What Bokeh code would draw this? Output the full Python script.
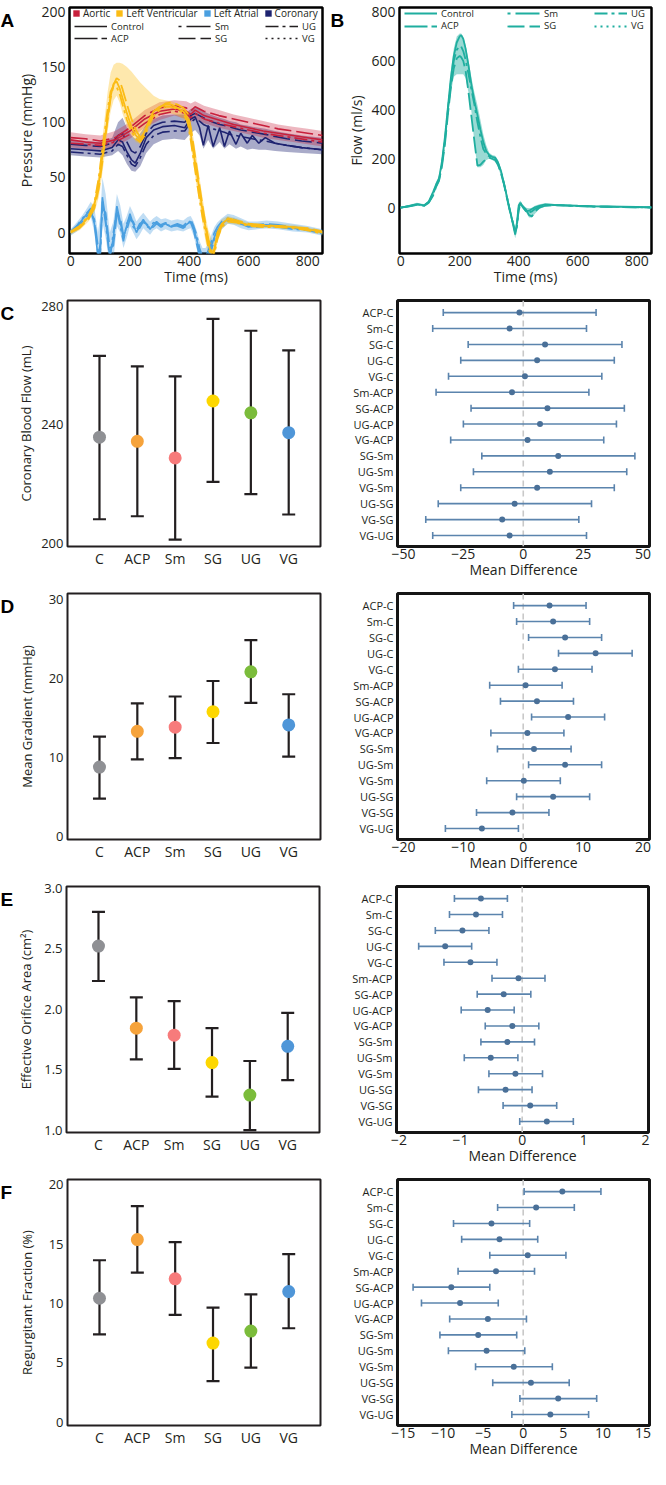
from bokeh.plotting import figure
from bokeh.layouts import column, row
from bokeh.models import (ColumnDataSource, Whisker, TeeHead, Span, Legend,
                          LegendItem, FixedTicker, Range1d, NumeralTickFormatter)
from bokeh.core.properties import value
from bokeh.embed import file_html
from bokeh.resources import INLINE

FONT = "Open Sans"
INK = "#231f20"
NAN = float("nan")

# ---------------- Panel A : pressure waveforms (mmHg) ----------------
ao_t = [0, 50, 100, 150, 200, 250, 300, 350, 390, 405, 420, 450, 500, 550, 600, 650, 700, 750, 800, 850]
ao_control = [84, 82, 81, 84, 92, 103, 110, 112, 110, 107, 111, 106, 102, 98, 95, 92, 90, 88, 86, 84]
ao_sg = [86, 85, 83, 86, 95, 106, 113, 115, 113, 110, 114, 110, 106, 103, 100, 97, 94, 92, 90, 88]
ao_ug = [81, 80, 79, 82, 89, 99, 107, 110, 108, 104, 108, 103, 99, 96, 93, 90, 88, 86, 84, 82]
ao_hi = [91, 89, 88, 92, 100, 111, 118, 120, 119, 117, 119, 115, 111, 107, 104, 101, 98, 96, 94, 92]
ao_lo = [77, 76, 75, 78, 85, 95, 102, 106, 103, 100, 103, 99, 95, 92, 89, 86, 84, 82, 80, 78]

co_t = [0, 50, 100, 140, 160, 175, 190, 205, 218, 235, 255, 280, 310, 350, 385, 405, 420, 435, 448, 464,
        481, 503, 519, 536, 558, 574, 596, 613, 635, 657, 690, 730, 780, 850]
co_control = [76, 75, 74, 77, 84, 82, 73, 66, 63, 72, 86, 93, 96, 97, 95, 103, 105, 95, 79, 97,
              78, 95, 78, 92, 80, 90, 81, 88, 81, 86, 81, 79, 77, 75]
co_sg = [80, 79, 78, 81, 88, 90, 82, 74, 72, 78, 90, 97, 100, 101, 100, 106, 108, 106, 104, 102,
         100, 98, 97, 96, 94, 93, 92, 91, 90, 89, 87, 85, 83, 81]
co_ug = [73, 72, 71, 74, 80, 78, 70, 62, 60, 68, 80, 88, 91, 92, 92, 100, 103, 101, 98, 96,
         94, 92, 91, 89, 88, 87, 86, 85, 84, 83, 81, 79, 77, 75]
co_hi = [84, 83, 82, 86, 100, 104, 95, 88, 85, 90, 98, 103, 106, 107, 107, 112, 114, 112, 110, 108,
         106, 104, 103, 101, 100, 98, 97, 96, 95, 94, 92, 90, 88, 86]
co_lo = [70, 69, 68, 70, 74, 70, 62, 56, 55, 60, 72, 80, 84, 85, 84, 90, 93, 88, 76, 84,
         76, 82, 76, 80, 76, 78, 75, 76, 75, 75, 74, 73, 72, 71]

lv_t = [0, 30, 60, 80, 95, 105, 115, 125, 135, 145, 155, 165, 175, 190, 205, 220, 235, 250, 265, 280,
        300, 320, 340, 360, 380, 395, 405, 415, 425, 435, 445, 455, 465, 480, 495, 510, 530, 560, 600, 650,
        700, 750, 800, 850]
lv_control = [0, 5, 14, 25, 45, 65, 85, 105, 124, 135, 137, 131, 122, 108, 96, 88, 84, 92, 102, 110,
              114, 116, 116, 113, 110, 104, 90, 72, 55, 38, 20, 5, -10, -24, 0, 8, 12, 10, 7, 6,
              6, 5, 3, 0]
lv_sg = [0, 4, 12, 22, 40, 60, 82, 103, 122, 134, 140, 138, 130, 116, 103, 93, 86, 90, 100, 108,
         113, 117, 118, 116, 113, 108, 96, 78, 60, 42, 24, 8, -6, -20, -4, 6, 13, 11, 8, 7,
         6, 5, 4, 1]
lv_ug = [1, 6, 15, 27, 50, 72, 92, 112, 128, 133, 132, 126, 116, 102, 92, 85, 82, 88, 98, 106,
         111, 114, 114, 112, 108, 100, 84, 66, 48, 30, 14, 0, -14, -26, -6, 5, 10, 9, 6, 5,
         5, 4, 2, -1]
lv_hi = [2, 8, 18, 30, 55, 80, 105, 128, 145, 152, 154, 154, 153, 150, 146, 141, 136, 132, 128, 124,
         121, 120, 119, 117, 114, 110, 100, 85, 68, 50, 32, 15, 2, -8, 5, 12, 15, 13, 9, 8,
         8, 7, 5, 2]
lv_lo = [-2, 2, 10, 18, 32, 50, 70, 92, 110, 120, 124, 118, 108, 96, 88, 82, 80, 85, 94, 102,
         106, 108, 108, 106, 103, 96, 80, 60, 42, 26, 8, -8, -20, -28, -10, 3, 8, 7, 5, 4,
         4, 3, 1, -2]

la_t = [0, 20, 40, 55, 68, 80, 92, 100, 107, 118, 132, 144, 156, 167, 178, 189, 200, 211, 222, 233,
        245, 256, 268, 279, 290, 305, 320, 340, 360, 380, 395, 405, 415, 425, 435, 445, 455, 465, 475, 485,
        495, 510, 530, 550, 575, 600, 630, 660, 700, 750, 800, 850]
la_control = [0, 5, 12, 17, 20, 8, -22, -10, 32, 12, -22, -5, 24, 10, -5, 6, 17, 8, 0, 6,
              12, 7, 3, 7, 10, 6, 8, 5, 7, 5, 8, 10, 4, -6, -18, -24, -24, -20, -12, -4,
              2, 8, 12, 11, 8, 5, 6, 7, 6, 4, 3, 0]
la_sg = [0, 4, 10, 15, 18, 12, -12, -18, 22, 18, -14, -12, 16, 14, -2, 2, 12, 10, 3, 4,
         10, 8, 4, 5, 8, 7, 9, 6, 8, 6, 10, 9, 2, -10, -22, -24, -22, -16, -8, 0,
         5, 10, 13, 11, 8, 6, 7, 8, 7, 5, 3, 1]
la_ug = [1, 6, 13, 18, 22, 10, -18, -20, 28, 8, -24, 0, 20, 6, -8, 8, 14, 5, 2, 8,
         10, 5, 5, 9, 8, 5, 7, 6, 6, 4, 7, 12, 6, -2, -14, -22, -26, -24, -16, -6,
         0, 6, 11, 12, 9, 6, 5, 6, 5, 3, 2, -1]
la_hi = [3, 9, 16, 22, 28, 22, 0, 15, 50, 35, 0, 10, 35, 25, 8, 15, 24, 18, 10, 14,
         18, 14, 10, 13, 15, 12, 13, 11, 12, 11, 14, 15, 10, 2, -8, -14, -14, -10, -2, 5,
         9, 13, 17, 16, 13, 10, 10, 11, 10, 8, 6, 3]
la_lo = [-3, 1, 7, 12, 14, 0, -28, -30, 10, -5, -30, -25, 6, 0, -14, -5, 6, 0, -6, -2,
         4, 1, -2, 2, 4, 1, 3, 1, 2, 1, 3, 4, -3, -14, -28, -32, -32, -28, -20, -10,
         -3, 3, 8, 7, 4, 2, 3, 4, 3, 1, 0, -3]

# ---------------- Panel B : aortic flow (ml/s) ----------------
fl_t = [0, 30, 55, 80, 95, 110, 120, 130, 140, 150, 160, 170, 180, 190, 200, 205, 212, 220, 230, 240,
        250, 260, 270, 280, 290, 300, 310, 320, 330, 340, 350, 360, 370, 380, 388, 394, 400, 406, 415, 425,
        435, 445, 455, 470, 490, 520, 560, 600, 650, 700, 750, 800, 850]
fl_control = [0, 8, 15, 10, 25, 65, 95, 120, 190, 290, 410, 530, 620, 675, 700, 705, 690, 650, 580, 500,
              435, 380, 320, 268, 232, 215, 208, 205, 185, 150, 100, 45, -10, -65, -110, -60, 10, 20, 0, -15,
              -12, -5, 2, 8, 14, 12, 10, 8, 6, 5, 4, 3, 2]
fl_sg = [0, 6, 12, 8, 20, 50, 85, 110, 170, 260, 380, 490, 570, 610, 620, 615, 600, 560, 470, 370,
         270, 172, 175, 188, 200, 205, 200, 195, 175, 140, 95, 40, -15, -60, -95, -70, -10, 15, 5, -8,
         -30, -35, -15, 0, 8, 10, 9, 7, 5, 4, 3, 2, 1]
fl_ug = [0, 7, 14, 9, 22, 55, 90, 115, 180, 275, 400, 510, 600, 645, 660, 658, 640, 605, 545, 480,
         420, 350, 290, 240, 220, 210, 205, 200, 180, 145, 100, 45, -10, -60, -100, -80, 0, 18, 2, -12,
         -20, -15, -5, 5, 12, 11, 9, 7, 5, 4, 3, 2, 1]
fl_hi = [3, 12, 20, 14, 30, 70, 105, 130, 200, 300, 430, 560, 650, 700, 712, 712, 700, 665, 600, 530,
         470, 420, 360, 300, 255, 225, 215, 212, 195, 160, 112, 60, 5, -45, -80, -50, 20, 28, 10, 0,
         -2, 0, 8, 14, 18, 15, 12, 10, 8, 7, 6, 5, 4]
fl_lo = [-3, 3, 8, 5, 15, 45, 80, 105, 165, 255, 370, 470, 535, 545, 545, 545, 545, 530, 470, 390,
         260, 165, 165, 175, 195, 200, 195, 188, 165, 130, 85, 30, -25, -75, -125, -95, -25, 8, -5, -20,
         -40, -40, -25, -5, 5, 7, 6, 4, 3, 2, 1, 0, -1]

time_ticks = [0, 200, 400, 600, 800]
variants = ["Control", "ACP", "Sm", "SG", "UG", "VG"]
variant_dash = ["solid", "23 4", "3 5 24 5", "17 5", "13 4 3 4", "2 4"]
chambers = ["Aortic", "Left Ventricular", "Left Atrial", "Coronary"]
chamber_colors = ["#c8203c", "#fbbc15", "#4a9fe0", "#1e2370"]
flow_color = "#1fae9f"
panel_letters = ["A", "B", "C", "D", "E", "F"]

# ---------------- Panels C-F : group summaries ----------------
groups = ["C", "ACP", "Sm", "SG", "UG", "VG"]
group_colors = ["#8f9094", "#f6a33b", "#f77b7b", "#fdd700", "#7bbc3b", "#4f96d8"]

cbf_mean = [235.8, 234.4, 228.8, 248.0, 244.0, 237.3]
cbf_lo = [208.1, 209.1, 201.2, 220.7, 216.6, 209.7]
cbf_hi = [263.2, 259.7, 256.3, 275.7, 271.7, 265.1]

grad_mean = [8.76, 13.28, 13.8, 15.76, 20.8, 14.08]
grad_lo = [4.76, 9.72, 9.88, 11.8, 16.88, 10.08]
grad_hi = [12.6, 16.8, 17.68, 19.64, 24.8, 17.96]

eoa_mean = [2.521, 1.842, 1.784, 1.558, 1.289, 1.692]
eoa_lo = [2.232, 1.584, 1.505, 1.276, 1.0, 1.413]
eoa_hi = [2.803, 2.097, 2.066, 1.842, 1.571, 1.968]

rf_mean = [10.45, 15.39, 12.08, 6.67, 7.68, 11.01]
rf_lo = [7.41, 12.61, 9.04, 3.47, 4.61, 7.92]
rf_hi = [13.65, 18.21, 15.17, 9.65, 10.77, 14.16]

comparisons = ["ACP-C", "Sm-C", "SG-C", "UG-C", "VG-C", "Sm-ACP", "SG-ACP", "UG-ACP", "VG-ACP",
               "SG-Sm", "UG-Sm", "VG-Sm", "UG-SG", "VG-SG", "VG-UG"]

fc_lo = [-33.4, -37.8, -23.0, -26.1, -31.2, -36.4, -21.8, -25.0, -30.3, -17.3, -20.8, -26.1, -35.5, -40.7, -37.8]
fc_mid = [-1.6, -5.7, 9.1, 5.8, 0.7, -4.7, 10.1, 7.0, 1.8, 14.6, 11.1, 5.8, -3.6, -8.8, -5.7]
fc_hi = [30.4, 26.4, 41.2, 38.0, 32.8, 27.4, 42.2, 38.9, 33.6, 46.6, 43.2, 38.0, 28.5, 23.2, 26.4]

fd_lo = [-1.6, -1.1, 0.9, 5.9, -0.8, -5.6, -3.8, 1.4, -5.4, -4.3, 0.9, -6.1, -1.1, -7.8, -13.0]
fd_mid = [4.4, 5.0, 7.0, 12.1, 5.3, 0.4, 2.3, 7.5, 0.7, 1.8, 7.0, 0.1, 5.0, -1.8, -6.9]
fd_hi = [10.5, 11.1, 13.1, 18.2, 11.5, 6.5, 8.4, 13.6, 6.8, 8.0, 13.1, 6.2, 11.1, 4.3, -0.8]

fe_lo = [-1.10, -1.18, -1.41, -1.68, -1.27, -0.49, -0.73, -0.99, -0.60, -0.67, -0.94, -0.54, -0.71, -0.31, -0.04]
fe_mid = [-0.67, -0.75, -0.97, -1.25, -0.84, -0.06, -0.30, -0.56, -0.16, -0.24, -0.51, -0.11, -0.27, 0.13, 0.40]
fe_hi = [-0.24, -0.32, -0.54, -0.82, -0.41, 0.37, 0.14, -0.13, 0.27, 0.20, -0.07, 0.33, 0.16, 0.56, 0.83]

ff_lo = [0.12, -3.20, -8.72, -7.70, -4.18, -8.15, -13.78, -12.73, -9.20, -10.42, -9.36, -5.96, -3.81, -0.41, -1.42]
ff_mid = [4.90, 1.62, -3.97, -2.96, 0.57, -3.40, -9.00, -7.90, -4.42, -5.63, -4.58, -1.18, 0.97, 4.38, 3.40]
ff_hi = [9.73, 6.40, 0.81, 1.82, 5.35, 1.42, -4.18, -3.12, 0.41, -0.81, 0.20, 3.65, 5.76, 9.20, 8.19]

forest_color = "#5b84ad"
forest_dot = "#4a7098"

# ---------------- layout constants ----------------
FH = 246
BT, BB = 7, 40
ROW_H = BT + FH + BB
LET_W = 14
FW_A, BL_A, BR_A = 253, 52, 8
FW_B, BL_B, BR_B = 252, 55, 2
FW_L, BL_L, BR_L = 253, 52, 10
FW_R, BL_R, BR_R = 252, 67, 2


def style(p, tick_size="13px", label_size="14px", ylabel_standoff=2):
    p.grid.visible = False
    p.background_fill_color = "white"
    p.border_fill_color = "white"
    for ax in (p.xaxis[0], p.yaxis[0]):
        ax.axis_line_color = None
        ax.major_tick_line_color = None
        ax.minor_tick_line_color = None
        ax.major_tick_out = 0
        ax.major_tick_in = 0
        ax.minor_tick_out = 0
        ax.minor_tick_in = 0
        ax.major_label_text_font = FONT
        ax.major_label_text_font_size = tick_size
        ax.major_label_text_color = INK
        ax.axis_label_text_font = FONT
        ax.axis_label_text_font_size = label_size
        ax.axis_label_text_font_style = "normal"
        ax.axis_label_text_color = INK
    p.xaxis.major_label_standoff = 2
    p.xaxis.axis_label_standoff = -2
    p.yaxis.major_label_standoff = 4
    p.yaxis.axis_label_standoff = ylabel_standoff


def letter_fig(txt):
    # narrow strip that carries the bold panel letter at its top-left corner
    p = figure(width=LET_W, height=ROW_H, min_border=0, x_range=Range1d(0, 1), y_range=Range1d(0, 1),
               x_axis_location=None, y_axis_location=None, output_backend="svg", toolbar_location=None)
    p.grid.visible = False
    p.outline_line_color = None
    p.background_fill_color = "white"
    p.border_fill_color = "white"
    p.text(x=[0], y=[1 - (BT - 4) / ROW_H], text=[txt], text_baseline="top", text_align="left",
           text_font=value("Liberation Sans"), text_font_style="bold", text_font_size="19px",
           text_color="black")
    return p


def single_legend(p, label, renderer, x, y, glyph_w=33, glyph_h=12, standoff=4):
    p.add_layout(Legend(items=[LegendItem(label=label, renderers=[renderer])], location=(x, y),
                        orientation="horizontal", glyph_width=glyph_w, glyph_height=glyph_h,
                        label_height=12, label_standoff=standoff, padding=0, margin=0, spacing=0,
                        border_line_color=None, background_fill_alpha=0,
                        label_text_font=FONT, label_text_font_size="9.5px", label_text_color=INK))


def base_fig(x_range, y_range, frame_w, bl, br):
    return figure(frame_width=frame_w, frame_height=FH, min_border_left=bl, min_border_right=br,
                  min_border_top=BT, min_border_bottom=BB, x_range=x_range, y_range=y_range,
                  output_backend="svg", toolbar_location=None)


LEG_POS = [(0, 0), (0, 1), (1, 0), (1, 1), (2, 0), (2, 1)]

# ---------------- Panel A ----------------
pA = base_fig(Range1d(-4, 850), Range1d(-19, 204), FW_A, BL_A, BR_A)
style(pA, tick_size="14px", label_size="14px", ylabel_standoff=2)
pA.outline_line_color = "black"
pA.outline_line_width = 2.5
pA.xaxis.axis_label = "Time (ms)"
pA.yaxis.axis_label = "Pressure (mmHg)"
pA.xaxis.ticker = FixedTicker(ticks=time_ticks)
pA.yaxis.ticker = FixedTicker(ticks=[0, 50, 100, 150, 200])

cA = dict(zip(chambers, chamber_colors))
pA.varea(x=co_t, y1=co_lo, y2=co_hi, fill_color=cA["Coronary"], fill_alpha=0.38)
pA.varea(x=ao_t, y1=ao_lo, y2=ao_hi, fill_color=cA["Aortic"], fill_alpha=0.32)
pA.varea(x=lv_t, y1=lv_lo, y2=lv_hi, fill_color=cA["Left Ventricular"], fill_alpha=0.35)
pA.varea(x=la_t, y1=la_lo, y2=la_hi, fill_color=cA["Left Atrial"], fill_alpha=0.35)
dash = dict(zip(variants, variant_dash))
for ys, v in ((co_control, "Control"), (co_sg, "SG"), (co_ug, "UG")):
    pA.line(co_t, ys, line_color=cA["Coronary"], line_width=1.6, line_dash=dash[v])
for ys, v in ((ao_control, "Control"), (ao_sg, "SG"), (ao_ug, "UG")):
    pA.line(ao_t, ys, line_color=cA["Aortic"], line_width=1.6, line_dash=dash[v])
for ys, v in ((la_control, "Control"), (la_sg, "SG"), (la_ug, "UG")):
    pA.line(la_t, ys, line_color=cA["Left Atrial"], line_width=1.6, line_dash=dash[v])
for ys, v in ((lv_control, "Control"), (lv_sg, "SG"), (lv_ug, "UG")):
    pA.line(lv_t, ys, line_color=cA["Left Ventricular"], line_width=1.8, line_dash=dash[v])

sq = [pA.quad(left=[NAN], right=[NAN], top=[NAN], bottom=[NAN], fill_color=c, line_color=None)
      for c in chamber_colors]
pA.add_layout(Legend(items=[LegendItem(label=l, renderers=[r]) for l, r in zip(chambers, sq)],
                     location=(3, FH - 12.5), orientation="horizontal", glyph_width=8, glyph_height=8,
                     label_height=10, label_standoff=3, padding=0, margin=0, spacing=5,
                     border_line_color=None, background_fill_alpha=0,
                     label_text_font=FONT, label_text_font_size="10px", label_text_color=INK))
col_x_A = [5, 109, 196]
row_y_A = [FH - 25.5, FH - 37.5]
for i, v in enumerate(variants):
    r = pA.line([NAN], [NAN], line_color=INK, line_width=1.5, line_dash=dash[v])
    col, rw = LEG_POS[i]
    single_legend(pA, v, r, col_x_A[col], row_y_A[rw])

# ---------------- Panel B ----------------
pB = base_fig(Range1d(-4, 850), Range1d(-187, 818), FW_B, BL_B, BR_B)
style(pB, tick_size="14px", label_size="14px", ylabel_standoff=2)
pB.outline_line_color = "black"
pB.outline_line_width = 2.5
pB.xaxis.axis_label = "Time (ms)"
pB.yaxis.axis_label = "Flow (ml/s)"
pB.xaxis.ticker = FixedTicker(ticks=time_ticks)
pB.yaxis.ticker = FixedTicker(ticks=[0, 200, 400, 600, 800])
pB.varea(x=fl_t, y1=fl_lo, y2=fl_hi, fill_color=flow_color, fill_alpha=0.45)
for ys, v in ((fl_control, "Control"), (fl_sg, "SG"), (fl_ug, "UG")):
    pB.line(fl_t, ys, line_color=flow_color, line_width=1.8, line_dash=dash[v])
col_x_B = [5, 108, 195]
row_y_B = [FH - 12.5, FH - 25]
for i, v in enumerate(variants):
    r = pB.line([NAN], [NAN], line_color=flow_color, line_width=1.8, line_dash=dash[v])
    col, rw = LEG_POS[i]
    single_legend(pB, v, r, col_x_B[col], row_y_B[rw])


# ---------------- dot plots ----------------
def dot_plot(ylabel, mean, lo, hi, yr, yticks, fmt=None, ylabel_standoff=2):
    p = base_fig(Range1d(0.155, 6.84), Range1d(*yr), FW_L, BL_L, BR_L)
    style(p, tick_size="13px", label_size="13px", ylabel_standoff=ylabel_standoff)
    p.xaxis.major_label_text_font_size = "14px"
    p.outline_line_color = INK
    p.outline_line_width = 2
    x = list(range(1, len(groups) + 1))
    src = ColumnDataSource(dict(x=x, mean=mean, lo=lo, hi=hi, color=group_colors))
    w = Whisker(source=src, base="x", lower="lo", upper="hi", dimension="height",
                line_color=INK, line_width=2.2, level="underlay",
                upper_head=TeeHead(size=13, line_color=INK, line_width=2.2),
                lower_head=TeeHead(size=13, line_color=INK, line_width=2.2))
    p.add_layout(w)
    p.scatter("x", "mean", source=src, size=13, fill_color="color", line_color=None)
    p.xaxis.ticker = FixedTicker(ticks=x)
    p.xaxis.major_label_overrides = {i: g for i, g in zip(x, groups)}
    p.yaxis.ticker = FixedTicker(ticks=yticks)
    if fmt:
        p.yaxis.formatter = NumeralTickFormatter(format=fmt)
    p.yaxis.axis_label = ylabel
    return p


def forest(lo, mid, hi, xr, xticks):
    p = base_fig(Range1d(*xr), Range1d(0.31, 15.76), FW_R, BL_R, BR_R)
    style(p, tick_size="14px", label_size="14px")
    p.yaxis.major_label_text_font_size = "11px"
    p.outline_line_color = "#151515"
    p.outline_line_width = 3
    y = [len(comparisons) - i for i in range(len(comparisons))]
    p.add_layout(Span(location=0, dimension="height", line_color="#c9c9c9", line_width=1.6,
                      line_dash="6 4", level="underlay"))
    src = ColumnDataSource(dict(y=y, lo=lo, mid=mid, hi=hi))
    p.add_layout(Whisker(source=src, base="y", lower="lo", upper="hi", dimension="width",
                         line_color=forest_color, line_width=1.6, level="underlay",
                         upper_head=TeeHead(size=7, line_color=forest_color, line_width=1.6),
                         lower_head=TeeHead(size=7, line_color=forest_color, line_width=1.6)))
    p.scatter("mid", "y", source=src, size=6, fill_color=forest_dot, line_color=None)
    p.yaxis.ticker = FixedTicker(ticks=y)
    p.yaxis.major_label_overrides = {yy: c for yy, c in zip(y, comparisons)}
    p.xaxis.ticker = FixedTicker(ticks=xticks)
    p.xaxis.axis_label = "Mean Difference"
    return p


pC = dot_plot("Coronary Blood Flow (mL)", cbf_mean, cbf_lo, cbf_hi, (198.9, 281.9), [200, 240, 280],
              ylabel_standoff=3)
fC = forest(fc_lo, fc_mid, fc_hi, (-52.5, 52.7), [-50, -25, 0, 25, 50])
pD = dot_plot("Mean Gradient (mmHg)", grad_mean, grad_lo, grad_hi, (-0.4, 30.7), [0, 10, 20, 30],
              ylabel_standoff=10)
fD = forest(fd_lo, fd_mid, fd_hi, (-21.0, 21.1), [-20, -10, 0, 10, 20])
pE = dot_plot("Effective Orifice Area (cm²)", eoa_mean, eoa_lo, eoa_hi, (0.98, 3.013),
              [1.0, 1.5, 2.0, 2.5, 3.0], fmt="0.0", ylabel_standoff=6)
fE = forest(fe_lo, fe_mid, fe_hi, (-2.04, 2.05), [-2, -1, 0, 1, 2])
pF = dot_plot("Regurgitant Fraction (%)", rf_mean, rf_lo, rf_hi, (-0.27, 20.45), [0, 5, 10, 15, 20],
              ylabel_standoff=10)
fF = forest(ff_lo, ff_mid, ff_hi, (-15.73, 15.81), [-15, -10, -5, 0, 5, 10, 15])

L = [letter_fig(t) for t in panel_letters]
layout = column(row(L[0], pA, L[1], pB),
                row(L[2], pC, fC),
                row(L[3], pD, fD),
                row(L[4], pE, fE),
                row(L[5], pF, fF))
open("out.html", "w").write(file_html(layout, INLINE))
